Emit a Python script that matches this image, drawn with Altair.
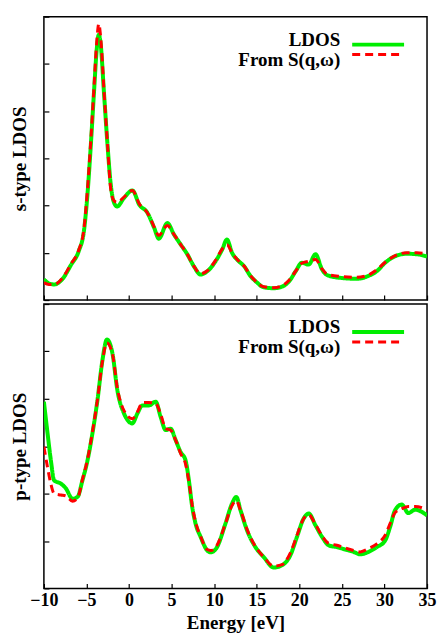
import altair as alt
import pandas as pd

# ---------------- data ----------------
series_names = ["LDOS", "From S(q,ω)"]
x_ticks = [-10, -5, 0, 5, 10, 15, 20, 25, 30, 35]
y_ticks = [0, 1, 2, 3, 4, 5, 6]

# s-type panel
s_energy = [-10.0, -9.4, -8.8, -7.8, -6.8, -5.9, -5.3, -4.9, -4.5, -4.1, -3.8, -3.55, -3.35,
            -2.93, -2.53, -2.15, -1.76, -1.4, -0.6, 0.4, 1.2, 2.15, 2.95, 3.5, 4.5, 5.27,
            6.05, 6.84, 7.6, 8.4, 9.2, 10.16, 10.94, 11.5, 12.1, 12.9, 13.5, 14.26, 15.04,
            15.8, 17.0, 18.16, 18.9, 19.6, 20.3, 21.1, 21.9, 22.66, 23.25, 24.8, 26.76,
            28.1, 29.1, 30.08, 31.05, 32.6, 33.8, 35.0]
s_ldos = [0.44, 0.35, 0.33, 0.45, 0.75, 1.04, 1.46, 2.2, 3.25, 4.45, 5.3, 5.62, 5.45,
          4.35, 3.29, 2.45, 2.06, 1.98, 2.16, 2.32, 2.02, 1.85, 1.53, 1.3, 1.63, 1.39,
          1.18, 0.97, 0.72, 0.54, 0.61, 0.82, 1.07, 1.28, 1.0, 0.82, 0.72, 0.51, 0.37,
          0.27, 0.25, 0.30, 0.42, 0.62, 0.79, 0.75, 0.97, 0.65, 0.53, 0.47, 0.45,
          0.51, 0.61, 0.79, 0.91, 0.98, 0.97, 0.92]
s_sqw = [0.37, 0.33, 0.33, 0.47, 0.77, 1.06, 1.5, 2.3, 3.35, 4.55, 5.45, 5.85, 5.6,
         4.4, 3.3, 2.35, 2.1, 2.07, 2.18, 2.32, 2.04, 1.85, 1.55, 1.37, 1.58, 1.39,
         1.18, 0.97, 0.72, 0.56, 0.62, 0.84, 1.08, 1.17, 1.0, 0.82, 0.72, 0.52, 0.37,
         0.28, 0.26, 0.32, 0.44, 0.62, 0.78, 0.82, 0.86, 0.66, 0.55, 0.50, 0.48,
         0.53, 0.64, 0.80, 0.92, 1.0, 1.0, 0.97]

# p-type panel
p_energy = [-10.0, -9.57, -9.18, -8.8, -8.0, -7.42, -6.64, -6.05, -5.47, -4.88, -4.3, -3.71,
            -3.12, -2.6, -1.95, -1.37, -0.59, 0.39, 0.98, 1.57, 2.34, 3.13, 3.71, 4.3,
            4.88, 5.47, 6.05, 6.64, 7.03, 7.42, 7.81, 8.4, 9.18, 9.6, 10.3, 11.33, 12.1,
            12.6, 13.09, 13.87, 14.85, 15.82, 17.0, 17.98, 18.95, 19.73, 20.5, 21.1, 21.9,
            22.66, 23.44, 24.4, 25.4, 26.37, 27.15, 28.13, 29.1, 30.08, 30.67, 31.25,
            32.03, 32.8, 33.6, 35.0]
p_ldos = [3.94, 3.27, 2.70, 2.28, 2.21, 2.11, 1.89, 1.93, 2.28, 2.70, 3.27, 3.97,
          4.82, 5.25, 4.96, 4.18, 3.69, 3.48, 3.69, 3.86, 3.86, 3.94, 3.62, 3.34,
          3.37, 3.13, 2.88, 2.70, 2.28, 1.72, 1.37, 1.09, 0.80, 0.76, 0.86, 1.37, 1.79,
          1.93, 1.65, 1.22, 0.87, 0.66, 0.44, 0.49, 0.70, 1.09, 1.47, 1.58, 1.33,
          1.09, 0.91, 0.87, 0.82, 0.77, 0.72, 0.77, 0.87, 1.01, 1.30, 1.65,
          1.77, 1.59, 1.66, 1.54]
p_sqw = [2.99, 2.55, 2.2, 2.0, 1.97, 1.95, 1.84, 1.9, 2.3, 2.72, 3.3, 3.98,
         4.8, 5.18, 4.95, 4.22, 3.75, 3.58, 3.72, 3.92, 3.92, 3.9, 3.68, 3.37,
         3.34, 3.13, 2.85, 2.62, 2.25, 1.75, 1.4, 1.1, 0.82, 0.80, 0.9, 1.37, 1.75,
         1.85, 1.65, 1.24, 0.88, 0.66, 0.47, 0.50, 0.75, 1.12, 1.47, 1.55, 1.35,
         1.11, 0.95, 0.91, 0.85, 0.80, 0.77, 0.84, 0.94, 1.12, 1.37, 1.6,
         1.68, 1.73, 1.73, 1.66]


def long_table(energy, ldos, sqw):
    return pd.DataFrame({
        "Energy": list(energy) + list(energy),
        "value": list(ldos) + list(sqw),
        "series": [series_names[0]] * len(energy) + [series_names[1]] * len(energy),
    })


legend_df = pd.DataFrame({"series": series_names})

FONT = "Liberation Serif"
W, H_TOP, H_BOT = 384, 284, 285

color_enc = alt.Color("series:N", legend=None,
                      scale=alt.Scale(domain=series_names, range=["#00ee00", "#ff0000"]))
dash_enc = alt.StrokeDash("series:N", legend=None,
                          scale=alt.Scale(domain=series_names, range=[[1, 0], [8, 5]]))
width_enc = alt.StrokeWidth("series:N", legend=None,
                            scale=alt.Scale(domain=series_names, range=[4, 3]))
# legend rows: pixel positions of the two rows inside each panel
legend_y = alt.Y("series:N", axis=None,
                 scale=alt.Scale(domain=series_names, range=[23, 43], padding=0))


def panel(df, ytitle, bottom, height):
    xaxis = alt.Axis(
        values=x_ticks, tickSize=5, offset=-5, domain=False, grid=False,
        tickColor="black", tickWidth=1.2,
        labels=bottom, labelFont=FONT, labelFontWeight="bold", labelFontSize=18,
        labelColor="black", labelPadding=3, labelFlush=False,
        title="Energy [eV]" if bottom else None,
        titleFont=FONT, titleFontWeight="bold", titleFontSize=19, titleColor="black",
        titlePadding=4,
    )
    yaxis = alt.Axis(
        values=y_ticks, tickSize=5, offset=-5, domain=False, grid=False,
        tickColor="black", tickWidth=1.2, labels=False,
        title=ytitle, titleFont=FONT, titleFontWeight="bold", titleFontSize=19,
        titleColor="black", titlePadding=14,
    )
    base = alt.Chart(df).mark_line(interpolate="monotone", clip=True).encode(
        x=alt.X("Energy:Q", scale=alt.Scale(domain=[-10, 35], nice=False, zero=False), axis=xaxis),
        y=alt.Y("value:Q", scale=alt.Scale(domain=[0, 6], nice=False), axis=yaxis),
        color=color_enc, strokeDash=dash_enc, strokeWidth=width_enc,
    )
    curves = alt.layer(
        base.transform_filter(alt.datum.series == series_names[0]),
        base.transform_filter(alt.datum.series == series_names[1]),
    )
    leg_text = alt.Chart(legend_df).mark_text(
        align="right", baseline="middle", font=FONT, fontWeight="bold", fontSize=19, color="black"
    ).encode(text="series:N", y=legend_y, x=alt.value(297))
    leg_line = alt.Chart(legend_df).mark_rule().encode(
        y=legend_y, x=alt.value(309), x2=alt.value(361),
        color=color_enc, strokeDash=dash_enc, strokeWidth=width_enc,
    )
    return alt.layer(curves, leg_line, leg_text).resolve_scale(y="independent").properties(
        width=W, height=height)


top = panel(long_table(s_energy, s_ldos, s_sqw), "s-type LDOS", False, H_TOP)
bot = panel(long_table(p_energy, p_ldos, p_sqw), "p-type LDOS", True, H_BOT)

chart = alt.vconcat(top, bot, spacing=0).properties(
    padding={"left": 9, "top": 14, "right": 0, "bottom": 0},
    background="white",
).configure_view(stroke="black", strokeWidth=1.5, fill="white")

chart.save("out.html", embed_options={"renderer": "svg", "actions": False})
